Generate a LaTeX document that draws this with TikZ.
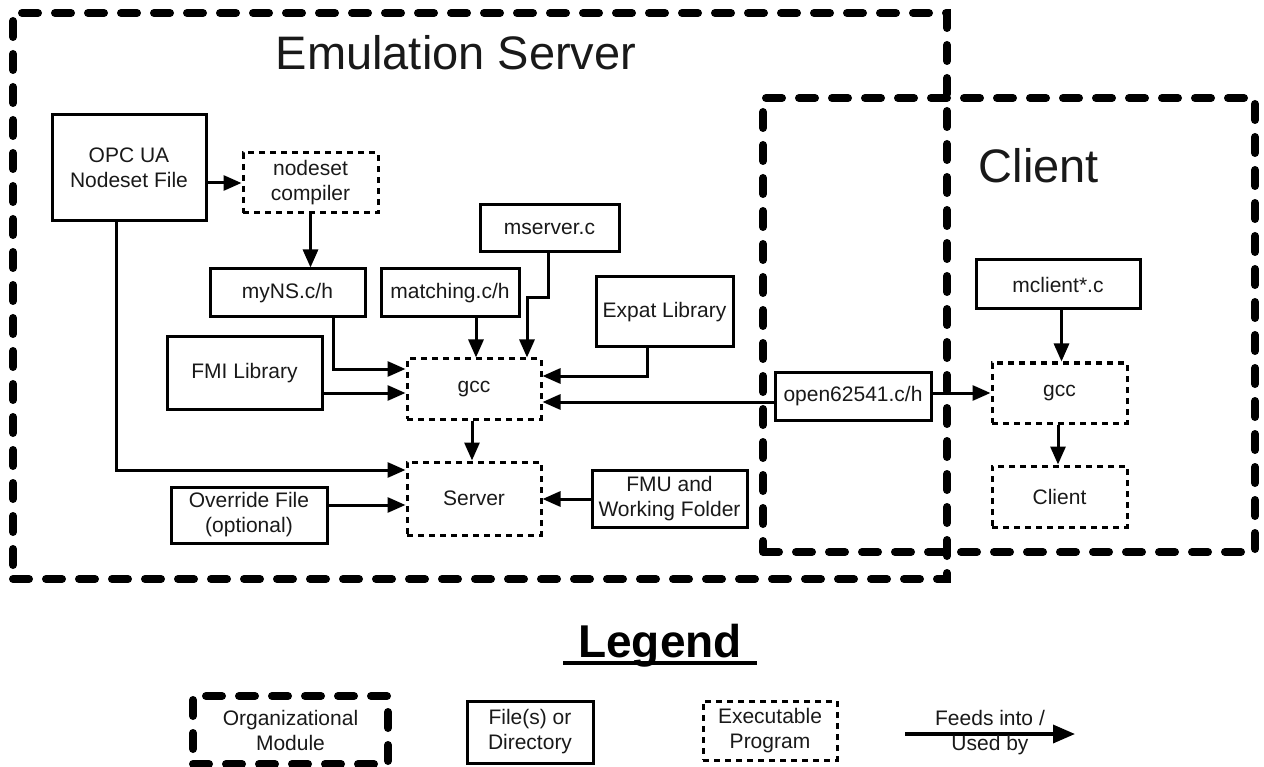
\documentclass[tikz,border=0pt]{standalone}
\usepackage{fontspec}
\setmainfont{Liberation Sans}
\usetikzlibrary{arrows.meta,calc}
\begin{document}
\begin{tikzpicture}[x=1pt,y=-1pt,
  txt/.style={font=\fontsize{21}{25}\selectfont,align=center,text=black!90},
  file/.style={txt,draw,line width=3pt,inner sep=0pt},
  exe/.style={file,dash pattern=on 6pt off 5pt},
  org/.style={draw,line width=8pt,dash pattern=on 16pt off 17pt,line cap=round,inner sep=0pt},
  arr/.style={line width=3pt,-{Triangle[length=18pt,width=15pt]}},
  title/.style={font=\fontsize{47}{54}\selectfont,anchor=base,text=black!90},
]
\useasboundingbox (0,0) rectangle (1264,767);

% organizational modules
\node[org,minimum width=934pt,minimum height=566pt] (emu) at (480,296) {};
\node[org,minimum width=492pt,minimum height=454pt] (cli) at (1009,325) {};
\node[title] (emutitle) at (456,70) {Emulation Server};
\node[title] (clititle) at (1039,183) {Client};

% files and executables
\node[file,minimum width=154pt,minimum height=106pt] (opc) at (129,168) {OPC UA\\Nodeset File};
\node[exe,minimum width=135pt,minimum height=60pt] (ncomp) at (310.5,183) {nodeset\\compiler};
\node[file,minimum width=155pt,minimum height=48pt] (myns) at (287.5,293) {myNS.c/h};
\node[file,minimum width=138pt,minimum height=48pt] (matching) at (450,293) {matching.c/h};
\node[file,minimum width=139pt,minimum height=47pt] (mserver) at (549.5,228.5) {mserver.c};
\node[file,minimum width=137pt,minimum height=70pt] (expat) at (664.5,312) {Expat Library};
\node[file,minimum width=155pt,minimum height=72pt] (fmi) at (244.5,373) {FMI Library};
\node[exe,minimum width=134pt,minimum height=60pt] (gcc) at (474,389) {gcc};
\node[exe,minimum width=134pt,minimum height=73pt] (server) at (474,498.5) {Server};
\node[file,minimum width=156pt,minimum height=56pt] (override) at (249,515) {Override File\\(optional)};
\node[file,minimum width=155pt,minimum height=57pt] (fmu) at (669.5,498.5) {FMU and\\Working Folder};
\node[file,minimum width=156pt,minimum height=48pt] (open) at (853,396) {open62541.c/h};
\node[file,minimum width=164pt,minimum height=49pt] (mclient) at (1058,284.5) {mclient*.c};
\node[exe,minimum width=135pt,minimum height=60pt] (cgcc) at (1059.5,393) {gcc};
\node[exe,minimum width=135pt,minimum height=61pt] (client) at (1059.5,496.5) {Client};

% connectors
\draw[arr] (opc.east |- ncomp.west) -- (ncomp.west);
\draw[arr] (ncomp.south) -- (ncomp.south |- myns.north);
\draw[arr] ($(opc.south)+(-13,0)$) |- ($(server.west)+(0,-28.5)$);
\draw[arr] ($(myns.south)+(45.5,0)$) |- ($(gcc.west)+(0,-20)$);
\draw[arr] (fmi.east |- {$(gcc.west)+(0,4)$}) -- ($(gcc.west)+(0,4)$);
\draw[arr] ($(matching.south)+(26,0)$) -- ($(gcc.north)+(2,0)$);
\draw[arr] ($(mserver.south)+(-1.5,0)$) -- ++(0,44) -| ($(gcc.north)+(53,0)$);
\draw[arr] ($(expat.south)+(-17.5,0)$) |- ($(gcc.east)+(0,-13)$);
\draw[arr] ($(open.west)+(0,6)$) -- ($(gcc.east)+(0,13)$);
\draw[arr] ($(open.east)+(0,-3)$) -- (cgcc.west);
\draw[arr] ($(gcc.south)+(-2,0)$) -- ($(server.north)+(-2,0)$);
\draw[arr] ($(override.east)+(0,-10)$) -- ($(server.west)+(0,6.5)$);
\draw[arr] ($(fmu.west)+(0,0.5)$) -- ($(server.east)+(0,0.5)$);
\draw[arr] ($(mclient.south)+(3.5,0)$) -- ($(cgcc.north)+(2,0)$);
\draw[arr] ($(cgcc.south)+(-1.5,0)$) -- ($(client.north)+(-1.5,0)$);

% legend
\node[font=\fontsize{46}{52}\selectfont\bfseries,anchor=base] (legend) at (660,657) {Legend};
\draw[line width=4pt] ($(legend.base)+(-97,6)$) -- ($(legend.base)+(97,6)$);
\node[org,txt,minimum width=195pt,minimum height=68pt] (lorg) at (290.5,730) {Organizational\\Module};
\node[file,minimum width=126pt,minimum height=62pt] (lfile) at (530,732) {File(s) or\\Directory};
\node[exe,minimum width=134pt,minimum height=59pt] (lexe) at (770,730.5) {Executable\\Program};
\coordinate (la) at (905,734);
\coordinate (lb) at (1075,734);
\draw[line width=3.5pt,-{Triangle[length=22pt,width=18pt]}] (la) -- (lb);
\node[txt] (ltext) at (990,733) {Feeds into /\\Used by};
\end{tikzpicture}
\end{document}
